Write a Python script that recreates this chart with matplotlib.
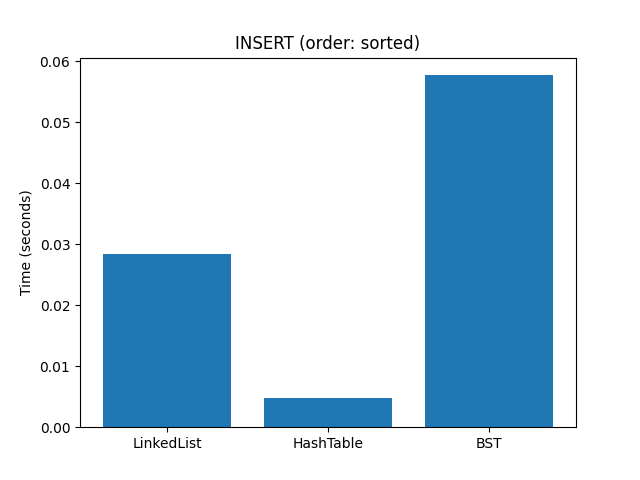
import matplotlib
matplotlib.use('agg')
import matplotlib.pyplot as plt

structures = ['LinkedList', 'HashTable', 'BST']
times = [0.02835, 0.00475, 0.0577]

fig, ax = plt.subplots(figsize=(6.4, 4.8), dpi=100)
ax.bar(structures, times)
ax.set_ylabel('Time (seconds)')
ax.set_title('INSERT (order: sorted)')
plt.savefig('out.png')
